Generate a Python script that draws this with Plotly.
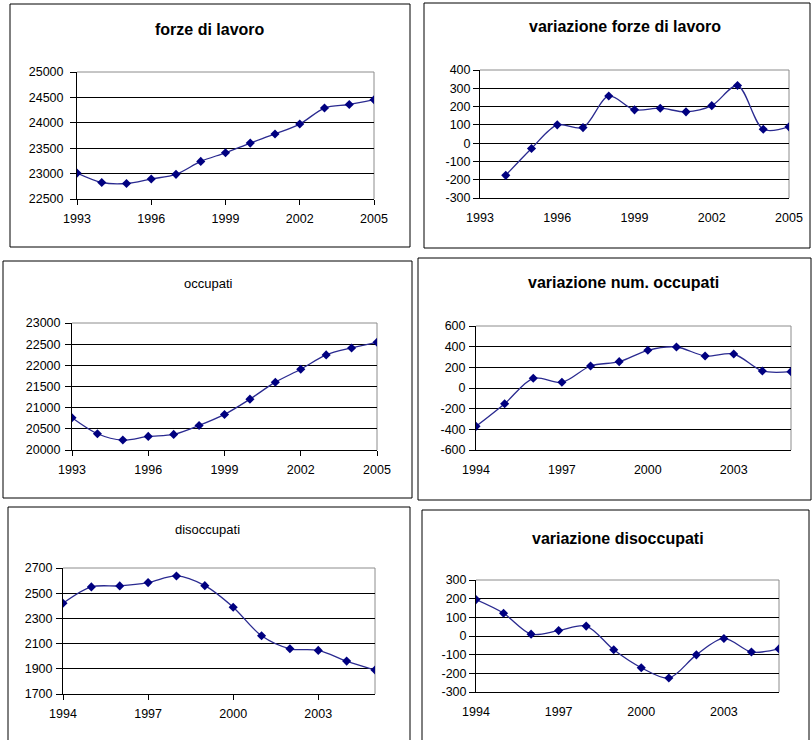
import plotly.graph_objects as go

# ---------------- data ----------------
years_full = [1993, 1994, 1995, 1996, 1997, 1998, 1999, 2000, 2001, 2002, 2003, 2004, 2005]
years_var = [1994, 1995, 1996, 1997, 1998, 1999, 2000, 2001, 2002, 2003, 2004, 2005]

forze_lavoro = [23010, 22825, 22805, 22895, 22985, 23240, 23410, 23600, 23780, 23975, 24290, 24360, 24455]
var_forze_lavoro = [-176, -29, 100, 85, 258, 182, 191, 171, 205, 315, 76, 89]
occupati = [20761, 20384, 20235, 20321, 20368, 20580, 20840, 21201, 21602, 21908, 22246, 22411, 22544]
var_occupati = [-371, -152, 94, 55, 213, 255, 365, 397, 310, 329, 165, 158]
disoccupati = [2420, 2550, 2558, 2584, 2637, 2560, 2389, 2162, 2059, 2046, 1961, 1890]
var_disoccupati = [195, 122, 10, 29, 53, -74, -170, -225, -101, -13, -86, -69]

titles = ["forze di lavoro", "variazione forze di lavoro", "occupati",
          "variazione num. occupati", "disoccupati", "variazione disoccupati"]

xticks_a = [1993, 1996, 1999, 2002, 2005]
xticks_b = [1994, 1997, 2000, 2003]

yticks_1 = [22500, 23000, 23500, 24000, 24500, 25000]
yticks_2 = [-300, -200, -100, 0, 100, 200, 300, 400]
yticks_3 = [20000, 20500, 21000, 21500, 22000, 22500, 23000]
yticks_4 = [-600, -400, -200, 0, 200, 400, 600]
yticks_5 = [1700, 1900, 2100, 2300, 2500, 2700]
yticks_6 = [-300, -200, -100, 0, 100, 200, 300]

# ---------------- layout geometry (pixels) ----------------
W, H = 812, 740
def fx(px):
    return px / W
def fy(py):
    return 1 - py / H

FONT = "Liberation Sans, Arial, sans-serif"
NAVY = "#000080"
LINE = "#2a2a90"

panels = [
    dict(x=years_full, y=forze_lavoro, xr=[1993, 2005], xt=xticks_a, yt=yticks_1, ys=4,
         plot=[77, 72, 374, 199], box=[10, 4, 410, 247], tpos=[210, 29], bold=True, zero=False),
    dict(x=years_var, y=var_forze_lavoro, xr=[1993, 2005], xt=xticks_a, yt=yticks_2, ys=0,
         plot=[480, 70, 789, 198], box=[424, 3, 810, 248], tpos=[625, 27], bold=True, zero=True),
    dict(x=years_full, y=occupati, xr=[1993, 2005], xt=xticks_a, yt=yticks_3, ys=2,
         plot=[72, 323, 377, 450], box=[3, 261, 412, 498], tpos=[208, 283], bold=False, zero=False),
    dict(x=years_var, y=var_occupati, xr=[1994, 2005], xt=xticks_b, yt=yticks_4, ys=1,
         plot=[476, 326, 791, 450], box=[418, 258, 811, 500], tpos=[623, 282], bold=True, zero=True),
    dict(x=years_var, y=disoccupati, xr=[1994, 2005], xt=xticks_b, yt=yticks_5, ys=1,
         plot=[63, 568, 375, 694], box=[8, 507, 410, 760], tpos=[207, 529], bold=False, zero=False),
    dict(x=years_var, y=var_disoccupati, xr=[1994, 2005], xt=xticks_b, yt=yticks_6, ys=0,
         plot=[476, 580, 779, 692], box=[422, 510, 809, 760], tpos=[618, 538], bold=True, zero=True),
]

fig = go.Figure()
layout = dict(
    width=W, height=H, margin=dict(l=0, r=0, t=0, b=0, pad=0, autoexpand=False),
    paper_bgcolor="white", plot_bgcolor="white", showlegend=False,
    font=dict(family=FONT, color="black", size=12.5),
)
shapes = []
annotations = []
extra_axis = 7

for i, p in enumerate(panels, start=1):
    sfx = "" if i == 1 else str(i)
    x0, y0, x1, y1 = p["plot"]
    fig.add_trace(go.Scatter(
        x=p["x"], y=p["y"], mode="lines+markers",
        line=dict(color=LINE, width=1.3, shape="spline", smoothing=0.9),
        marker=dict(symbol="diamond", size=7, color=NAVY, line=dict(width=0)),
        xaxis="x" + sfx, yaxis="y" + sfx, hoverinfo="x+y",
    ))
    layout["xaxis" + sfx] = dict(
        domain=[fx(x0), fx(x1)], anchor="y" + sfx, range=p["xr"],
        tickvals=p["xt"], ticktext=[str(v) for v in p["xt"]],
        showline=True, linecolor="black", linewidth=1,
        ticks="" if p["zero"] else "outside", ticklen=5, tickcolor="black",
        showgrid=False, zeroline=False, tickfont=dict(size=12.5),
        ticklabelstandoff=8 if p["zero"] else 3, automargin=False,
    )
    layout["yaxis" + sfx] = dict(
        domain=[fy(y1), fy(y0)], anchor="x" + sfx, range=[p["yt"][0], p["yt"][-1]],
        tickvals=p["yt"], ticktext=[str(v) for v in p["yt"]],
        showline=True, linecolor="black", linewidth=1,
        ticks="outside", ticklen=6, tickcolor="black",
        showgrid=True, gridcolor="black", gridwidth=1, zeroline=False,
        tickfont=dict(size=12.5), automargin=False, ticklabelstandoff=p["ys"],
    )
    if p["zero"]:
        ymin, ymax = p["yt"][0], p["yt"][-1]
        pos = fy(y1) + (0 - ymin) / (ymax - ymin) * (fy(y0) - fy(y1))
        layout["xaxis" + str(extra_axis)] = dict(
            overlaying="x" + sfx, anchor="free", position=pos, range=p["xr"],
            tickvals=p["xt"][1:], showticklabels=False,
            showline=True, linecolor="black", linewidth=1,
            ticks="outside", ticklen=5, tickcolor="black",
            showgrid=False, zeroline=False, automargin=False,
        )
        extra_axis += 1
    # gray plot-area border (top and right)
    for (ax0, ay0, ax1, ay1) in [(0, 1, 1, 1), (1, 0, 1, 1)]:
        shapes.append(dict(type="line", xref="x" + sfx + " domain", yref="y" + sfx + " domain",
                           x0=ax0, y0=ay0, x1=ax1, y1=ay1,
                           line=dict(color="#8c8c8c", width=1), layer="below"))
    # chart box
    bx0, by0, bx1, by1 = p["box"]
    shapes.append(dict(type="rect", xref="paper", yref="paper",
                       x0=fx(bx0), y0=fy(by1), x1=fx(bx1), y1=fy(by0),
                       line=dict(color="black", width=1), fillcolor="rgba(0,0,0,0)", layer="below"))
    # title
    tx, ty = p["tpos"]
    t = titles[i - 1]
    annotations.append(dict(
        text="<b>" + t + "</b>" if p["bold"] else t,
        xref="paper", yref="paper", x=fx(tx), y=fy(ty), xanchor="center", yanchor="middle",
        showarrow=False, font=dict(size=16 if p["bold"] else 13, family=FONT, color="black"),
    ))

layout["shapes"] = shapes
layout["annotations"] = annotations
fig.update_layout(**layout)
fig.write_html(
    "out.html",
    config={"displayModeBar": False},
    post_script="document.body.style.margin='0';document.body.style.overflow='hidden';",
)
